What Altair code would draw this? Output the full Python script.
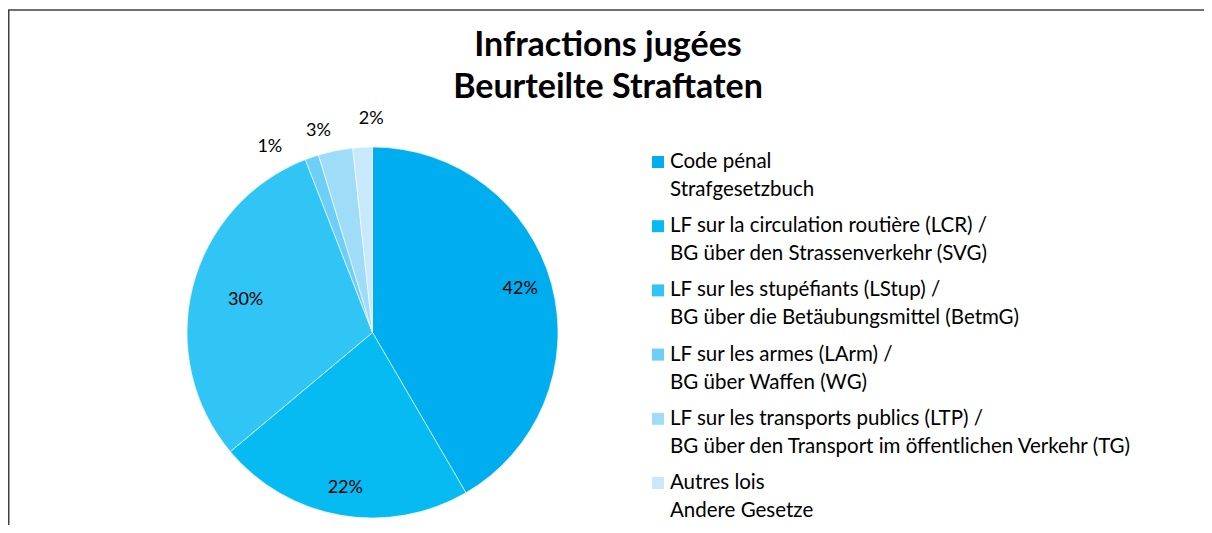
import altair as alt
import pandas as pd

# ---- data -------------------------------------------------------------
categories = ["Code pénal", "LCR", "LStup", "LArm", "LTP", "Autres"]
legend_fr = [
    "Code pénal",
    "LF sur la circulation routière (LCR) /",
    "LF sur les stupéfiants (LStup) /",
    "LF sur les armes (LArm) /",
    "LF sur les transports publics (LTP) /",
    "Autres lois",
]
legend_de = [
    "Strafgesetzbuch",
    "BG über den Strassenverkehr (SVG)",
    "BG über die Betäubungsmittel (BetmG)",
    "BG über Waffen (WG)",
    "BG über den Transport im öffentlichen Verkehr (TG)",
    "Andere Gesetze",
]
shares = [41.6, 22.3, 30.2, 1.2, 3.0, 1.7]
title_lines = ["Infractions jugées", "Beurteilte Straftaten"]

# ---- styles -----------------------------------------------------------
colors = ["#00AEEF", "#05BBF1", "#30C5F4", "#6ECFF6", "#9FDCF8", "#C8E9FA"]
FONT = "Lato"
W, H = 1196, 517
CX, CY, R = 364.5, 324.5, 185.5
# label placement per slice: (radius, dx, dy)
label_pos = {
    "Code pénal": (153, 0, -4),
    "LCR": (158, 0, 0),
    "LStup": (131, 0, 0),
    "LArm": (210, -34, 13),
    "LTP": (210, -12, 4),
    "Autres": (210, 10, -4),
}

df = pd.DataFrame({
    "cat": categories,
    "fr": legend_fr,
    "de": legend_de,
    "share": shares,
    "idx": list(range(len(categories))),
})

color = alt.Color("cat:N", scale=alt.Scale(domain=categories, range=colors), legend=None)
theta = alt.Theta("share:Q", stack=True)
order = alt.Order("idx:Q")

base = alt.Chart(df).transform_calculate(
    label="format(datum.share, '.0f') + '%'"
)

pie = base.mark_arc(outerRadius=R, stroke="white", strokeWidth=0.6).encode(
    theta=theta, color=color, order=order,
    x=alt.value(CX), y=alt.value(CY),
)

label_layers = []
for cat, (r, dx, dy) in label_pos.items():
    label_layers.append(
        base.mark_text(radius=r, dx=dx, dy=dy, font=FONT, fontSize=18,
                       color="black", align="center", baseline="middle").encode(
            theta=theta, detail="cat:N", order=order,
            x=alt.value(CX), y=alt.value(CY),
            text=alt.condition(alt.datum.cat == cat, "label:N", alt.value("")),
        )
    )

ypos = alt.Y("cat:N", scale=alt.Scale(type="point", domain=categories, range=[154, 475], padding=0),
             axis=None)

squares = base.mark_square(size=144, opacity=1).encode(
    x=alt.value(650), y=ypos, color=color
)
text_fr = base.mark_text(align="left", baseline="middle", font=FONT, fontSize=20.5, color="black").encode(
    x=alt.value(662), y=ypos, text="fr:N"
)
text_de = base.mark_text(align="left", baseline="middle", font=FONT, fontSize=20.5, color="black", dy=28).encode(
    x=alt.value(662), y=ypos, text="de:N"
)

one = alt.Data(values=[{"k": 1}])
title = alt.Chart(one).mark_text(
    text=title_lines, font=FONT, fontSize=34, fontWeight="bold", lineHeight=42,
    align="center", baseline="alphabetic", color="black",
).encode(x=alt.value(600), y=alt.value(48))

frame_top = alt.Chart(one).mark_rule(color="#404040", strokeWidth=1.5).encode(
    x=alt.value(0), x2=alt.value(W), y=alt.value(2)
)
frame_left = alt.Chart(one).mark_rule(color="#404040", strokeWidth=1.5).encode(
    x=alt.value(0.75), y=alt.value(2), y2=alt.value(H)
)

chart = alt.layer(
    frame_top, frame_left, pie, *label_layers, squares, text_fr, text_de, title
).properties(
    width=W, height=H, padding=0,
    autosize=alt.AutoSizeParams(type="none"),
).configure_view(strokeWidth=0)

chart.save("out.html", embed_options={"renderer": "svg", "actions": False})
